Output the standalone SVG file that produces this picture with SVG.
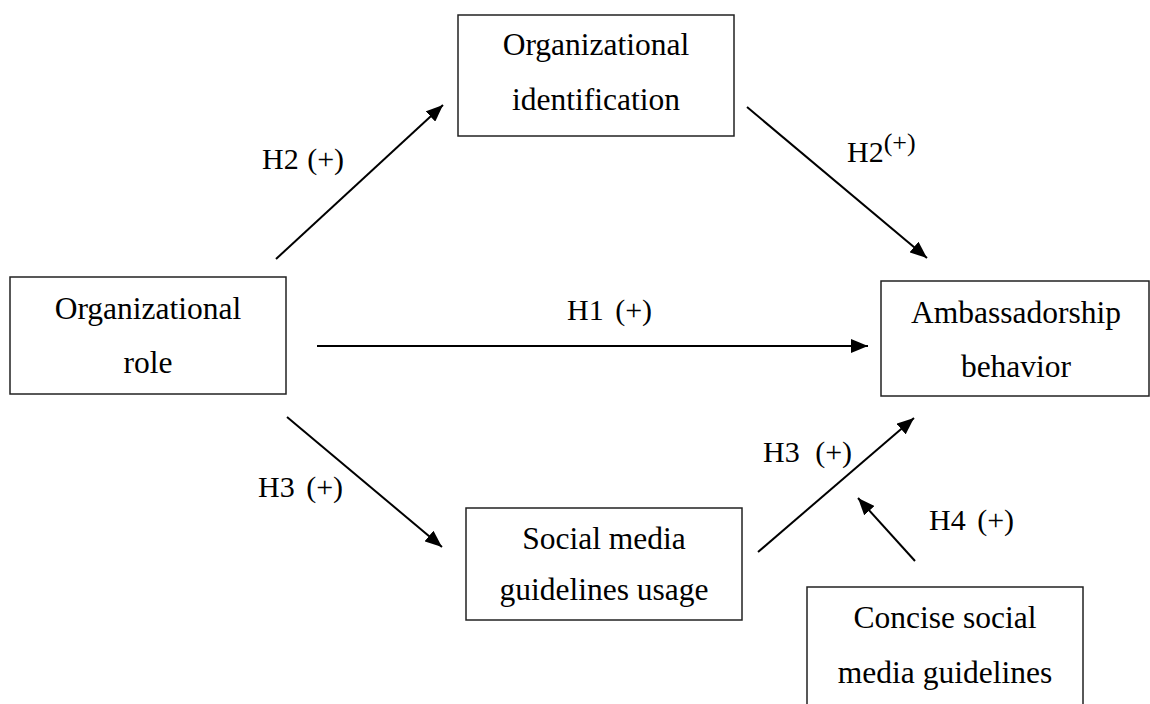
<svg xmlns="http://www.w3.org/2000/svg" width="1150" height="704" viewBox="0 0 1150 704">
<style>
.box{fill:#fff;stroke:#222;stroke-width:1.5}
.t{font-family:"Liberation Serif","Times New Roman",serif;font-size:31.5px;fill:#000;text-anchor:middle}
.lb{font-family:"Liberation Serif","Times New Roman",serif;font-size:30px;fill:#000;word-spacing:4px}
.ar{stroke:#000;stroke-width:2;fill:none;marker-end:url(#ah)}
</style>
<defs>
<marker id="ah" markerUnits="userSpaceOnUse" markerWidth="18" markerHeight="14" refX="17" refY="7" orient="auto">
<path d="M0,0 L17,7 L0,14 z" fill="#000"/>
</marker>
</defs>
<rect width="1150" height="704" fill="#fff"/>
<g id="connectors">
<line class="ar" x1="276" y1="259" x2="443" y2="105"/>
<line class="ar" x1="747" y1="107" x2="927" y2="258"/>
<line class="ar" x1="317" y1="346" x2="868" y2="346"/>
<line class="ar" x1="287" y1="417" x2="442" y2="547"/>
<line class="ar" x1="758" y1="552" x2="914" y2="418"/>
<line class="ar" x1="915" y1="561" x2="858" y2="498"/>
</g>
<g id="labels">
<text class="lb" x="262" y="169" style="word-spacing:1px">H2 (+)</text>
<text class="lb" x="847" y="162">H2<tspan font-size="26" dy="-11">(+)</tspan></text>
<text class="lb" x="567" y="320">H1 (+)</text>
<text class="lb" x="258" y="497">H3 (+)</text>
<text class="lb" x="763" y="462" style="word-spacing:8px">H3 (+)</text>
<text class="lb" x="929" y="530">H4 (+)</text>
</g>
<g id="org-identification">
<rect class="box" x="458" y="15" width="276" height="121"/>
<text class="t" x="596" y="55">Organizational</text>
<text class="t" x="596" y="110">identification</text>
</g>
<g id="org-role">
<rect class="box" x="10" y="277" width="276" height="117"/>
<text class="t" x="148" y="319">Organizational</text>
<text class="t" x="148" y="373">role</text>
</g>
<g id="ambassadorship">
<rect class="box" x="881" y="281" width="268" height="115"/>
<text class="t" x="1016" y="323">Ambassadorship</text>
<text class="t" x="1016" y="377">behavior</text>
</g>
<g id="sm-usage">
<rect class="box" x="466" y="508" width="276" height="112"/>
<text class="t" x="604" y="549">Social media</text>
<text class="t" x="604" y="600">guidelines usage</text>
</g>
<g id="concise">
<rect class="box" x="807" y="587" width="276" height="130"/>
<text class="t" x="945" y="628">Concise social</text>
<text class="t" x="945" y="683">media guidelines</text>
</g>
</svg>
